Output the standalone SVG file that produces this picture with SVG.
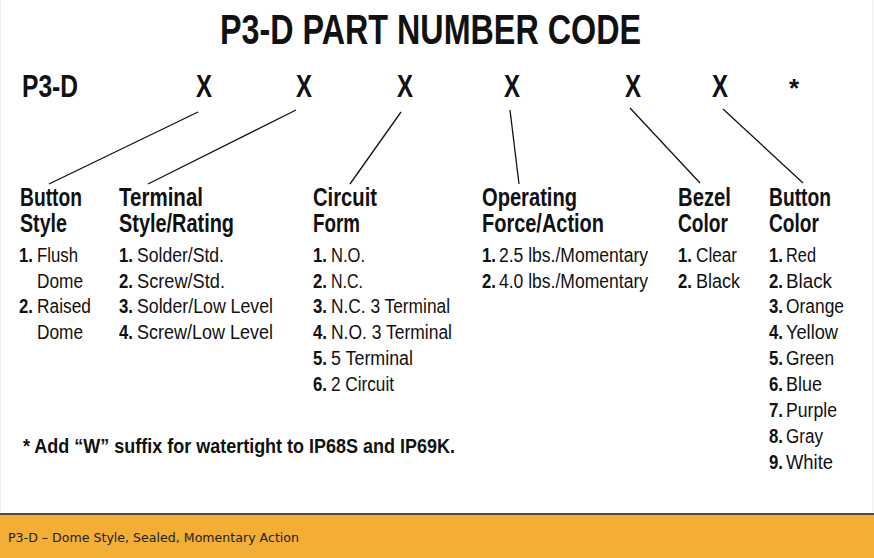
<svg xmlns="http://www.w3.org/2000/svg" width="874" height="558" viewBox="0 0 874 558">
<style>
text{font-family:"Liberation Sans Narrow","Liberation Sans",Arial,sans-serif;fill:#111;}
.title{font-size:42px;font-weight:bold;}
.code{font-size:31px;font-weight:bold;}
.hd{font-size:25px;font-weight:bold;}
.it{font-size:20px;}
.n{font-size:20px;font-weight:bold;}
.fn{font-size:20px;font-weight:bold;}
.bar{font-family:"DejaVu Sans",Verdana,sans-serif;font-size:12.5px;fill:#222;}
.conn line{stroke:#111;stroke-width:1.3;}
</style>
<rect x="0" y="0" width="874" height="558" fill="#fff"/>
<line x1="0.5" y1="0" x2="0.5" y2="514" stroke="#eee" stroke-width="1"/>
<line x1="872.5" y1="0" x2="872.5" y2="514" stroke="#eee" stroke-width="1"/>
<g id="title">
<text class="title" x="220" y="44" textLength="421" lengthAdjust="spacingAndGlyphs">P3-D PART NUMBER CODE</text>
</g>
<g id="code">
<text class="code" x="22" y="97" textLength="56" lengthAdjust="spacingAndGlyphs">P3-D</text>
<text class="code" x="196" y="97" textLength="16" lengthAdjust="spacingAndGlyphs">X</text>
<text class="code" x="296" y="97" textLength="16" lengthAdjust="spacingAndGlyphs">X</text>
<text class="code" x="397" y="97" textLength="16" lengthAdjust="spacingAndGlyphs">X</text>
<text class="code" x="504" y="97" textLength="16" lengthAdjust="spacingAndGlyphs">X</text>
<text class="code" x="625" y="97" textLength="16" lengthAdjust="spacingAndGlyphs">X</text>
<text class="code" x="712" y="97" textLength="16" lengthAdjust="spacingAndGlyphs">X</text>
<text class="code" x="794" y="97" text-anchor="middle" style="font-size:26px">*</text>
</g>
<g class="conn" id="connectors">
<line x1="198" y1="112" x2="49" y2="184"/>
<line x1="296" y1="110" x2="148" y2="184"/>
<line x1="401" y1="112" x2="350" y2="184"/>
<line x1="510" y1="110" x2="519" y2="184"/>
<line x1="630" y1="108" x2="700" y2="183"/>
<line x1="723" y1="109" x2="803" y2="183"/>
</g>
<g id="button-style">
<text class="hd" x="20" y="206" textLength="62" lengthAdjust="spacingAndGlyphs">Button</text>
<text class="hd" x="20" y="232" textLength="47" lengthAdjust="spacingAndGlyphs">Style</text>
<text class="n" x="19" y="262" textLength="14" lengthAdjust="spacingAndGlyphs">1.</text>
<text class="it" x="37" y="262" textLength="41" lengthAdjust="spacingAndGlyphs">Flush</text>
<text class="it" x="37" y="288" textLength="46" lengthAdjust="spacingAndGlyphs">Dome</text>
<text class="n" x="19" y="313" textLength="14" lengthAdjust="spacingAndGlyphs">2.</text>
<text class="it" x="37" y="313" textLength="54" lengthAdjust="spacingAndGlyphs">Raised</text>
<text class="it" x="37" y="339" textLength="46" lengthAdjust="spacingAndGlyphs">Dome</text>
</g>
<g id="terminal-style">
<text class="hd" x="119" y="206" textLength="84" lengthAdjust="spacingAndGlyphs">Terminal</text>
<text class="hd" x="119" y="232" textLength="115" lengthAdjust="spacingAndGlyphs">Style/Rating</text>
<text class="n" x="119" y="262" textLength="14" lengthAdjust="spacingAndGlyphs">1.</text>
<text class="it" x="137" y="262" textLength="87" lengthAdjust="spacingAndGlyphs">Solder/Std.</text>
<text class="n" x="119" y="288" textLength="14" lengthAdjust="spacingAndGlyphs">2.</text>
<text class="it" x="137" y="288" textLength="88" lengthAdjust="spacingAndGlyphs">Screw/Std.</text>
<text class="n" x="119" y="313" textLength="14" lengthAdjust="spacingAndGlyphs">3.</text>
<text class="it" x="137" y="313" textLength="136" lengthAdjust="spacingAndGlyphs">Solder/Low Level</text>
<text class="n" x="119" y="339" textLength="14" lengthAdjust="spacingAndGlyphs">4.</text>
<text class="it" x="137" y="339" textLength="136" lengthAdjust="spacingAndGlyphs">Screw/Low Level</text>
</g>
<g id="circuit-form">
<text class="hd" x="313" y="206" textLength="64" lengthAdjust="spacingAndGlyphs">Circuit</text>
<text class="hd" x="313" y="232" textLength="47" lengthAdjust="spacingAndGlyphs">Form</text>
<text class="n" x="313" y="262" textLength="14" lengthAdjust="spacingAndGlyphs">1.</text>
<text class="it" x="331" y="262" textLength="34" lengthAdjust="spacingAndGlyphs">N.O.</text>
<text class="n" x="313" y="288" textLength="14" lengthAdjust="spacingAndGlyphs">2.</text>
<text class="it" x="331" y="288" textLength="32" lengthAdjust="spacingAndGlyphs">N.C.</text>
<text class="n" x="313" y="313" textLength="14" lengthAdjust="spacingAndGlyphs">3.</text>
<text class="it" x="331" y="313" textLength="119" lengthAdjust="spacingAndGlyphs">N.C. 3 Terminal</text>
<text class="n" x="313" y="339" textLength="14" lengthAdjust="spacingAndGlyphs">4.</text>
<text class="it" x="331" y="339" textLength="121" lengthAdjust="spacingAndGlyphs">N.O. 3 Terminal</text>
<text class="n" x="313" y="365" textLength="14" lengthAdjust="spacingAndGlyphs">5.</text>
<text class="it" x="331" y="365" textLength="82" lengthAdjust="spacingAndGlyphs">5 Terminal</text>
<text class="n" x="313" y="391" textLength="14" lengthAdjust="spacingAndGlyphs">6.</text>
<text class="it" x="331" y="391" textLength="63" lengthAdjust="spacingAndGlyphs">2 Circuit</text>
</g>
<g id="operating-force">
<text class="hd" x="482" y="206" textLength="95" lengthAdjust="spacingAndGlyphs">Operating</text>
<text class="hd" x="482" y="232" textLength="122" lengthAdjust="spacingAndGlyphs">Force/Action</text>
<text class="n" x="482" y="262" textLength="14" lengthAdjust="spacingAndGlyphs">1.</text>
<text class="it" x="499" y="262" textLength="149" lengthAdjust="spacingAndGlyphs">2.5 lbs./Momentary</text>
<text class="n" x="482" y="288" textLength="14" lengthAdjust="spacingAndGlyphs">2.</text>
<text class="it" x="499" y="288" textLength="149" lengthAdjust="spacingAndGlyphs">4.0 lbs./Momentary</text>
</g>
<g id="bezel-color">
<text class="hd" x="678" y="206" textLength="53" lengthAdjust="spacingAndGlyphs">Bezel</text>
<text class="hd" x="678" y="232" textLength="50" lengthAdjust="spacingAndGlyphs">Color</text>
<text class="n" x="678" y="262" textLength="14" lengthAdjust="spacingAndGlyphs">1.</text>
<text class="it" x="696" y="262" textLength="41" lengthAdjust="spacingAndGlyphs">Clear</text>
<text class="n" x="678" y="288" textLength="14" lengthAdjust="spacingAndGlyphs">2.</text>
<text class="it" x="696" y="288" textLength="44" lengthAdjust="spacingAndGlyphs">Black</text>
</g>
<g id="button-color">
<text class="hd" x="769" y="206" textLength="62" lengthAdjust="spacingAndGlyphs">Button</text>
<text class="hd" x="769" y="232" textLength="50" lengthAdjust="spacingAndGlyphs">Color</text>
<text class="n" x="769" y="262" textLength="14" lengthAdjust="spacingAndGlyphs">1.</text>
<text class="it" x="786" y="262" textLength="30" lengthAdjust="spacingAndGlyphs">Red</text>
<text class="n" x="769" y="288" textLength="14" lengthAdjust="spacingAndGlyphs">2.</text>
<text class="it" x="786" y="288" textLength="46" lengthAdjust="spacingAndGlyphs">Black</text>
<text class="n" x="769" y="313" textLength="14" lengthAdjust="spacingAndGlyphs">3.</text>
<text class="it" x="786" y="313" textLength="58" lengthAdjust="spacingAndGlyphs">Orange</text>
<text class="n" x="769" y="339" textLength="14" lengthAdjust="spacingAndGlyphs">4.</text>
<text class="it" x="786" y="339" textLength="52" lengthAdjust="spacingAndGlyphs">Yellow</text>
<text class="n" x="769" y="365" textLength="14" lengthAdjust="spacingAndGlyphs">5.</text>
<text class="it" x="786" y="365" textLength="48" lengthAdjust="spacingAndGlyphs">Green</text>
<text class="n" x="769" y="391" textLength="14" lengthAdjust="spacingAndGlyphs">6.</text>
<text class="it" x="786" y="391" textLength="36" lengthAdjust="spacingAndGlyphs">Blue</text>
<text class="n" x="769" y="417" textLength="14" lengthAdjust="spacingAndGlyphs">7.</text>
<text class="it" x="786" y="417" textLength="51" lengthAdjust="spacingAndGlyphs">Purple</text>
<text class="n" x="769" y="443" textLength="14" lengthAdjust="spacingAndGlyphs">8.</text>
<text class="it" x="786" y="443" textLength="37" lengthAdjust="spacingAndGlyphs">Gray</text>
<text class="n" x="769" y="469" textLength="14" lengthAdjust="spacingAndGlyphs">9.</text>
<text class="it" x="786" y="469" textLength="47" lengthAdjust="spacingAndGlyphs">White</text>
</g>
<g id="footnote">
<text class="fn" x="23" y="453" textLength="432" lengthAdjust="spacingAndGlyphs">* Add “W” suffix for watertight to IP68S and IP69K.</text>
</g>
<g id="caption-bar">
<rect x="0" y="514" width="874" height="44" fill="#F2AE35"/>
<rect x="0" y="513" width="874" height="2" fill="#4d4a45"/>
<text class="bar" x="8" y="542" textLength="291" lengthAdjust="spacingAndGlyphs">P3-D – Dome Style, Sealed, Momentary Action</text>
</g>
</svg>
